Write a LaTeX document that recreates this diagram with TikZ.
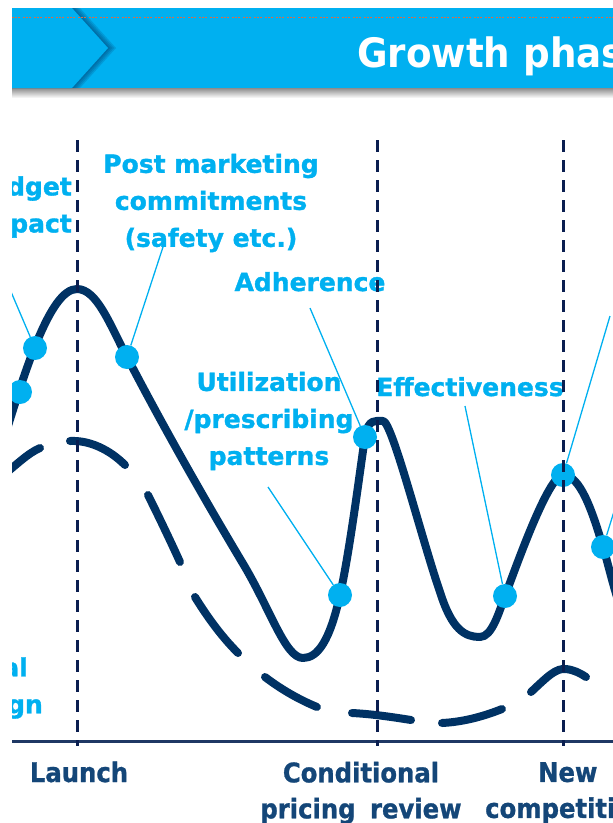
\documentclass[tikz,border=0pt]{standalone}
\usepackage{fontspec}
\newfontfamily\labfont[BoldFeatures={FakeBold=1.3}]{DejaVu Sans}
\newfontfamily\condfont[FakeStretch=0.9,BoldFeatures={FakeBold=1.0}]{DejaVu Sans}
\newfontfamily\titlefont[FakeStretch=0.92]{DejaVu Sans}
\definecolor{cyanb}{RGB}{0,176,240}
\definecolor{navy}{RGB}{0,50,100}
\definecolor{vline}{RGB}{10,30,80}
\definecolor{axiscol}{RGB}{31,56,100}
\definecolor{botlab}{RGB}{20,70,120}
\definecolor{shadowb}{RGB}{0,60,110}
\definecolor{dotor}{RGB}{215,110,70}
\tikzset{
  dotnode/.style={circle, fill=cyanb, minimum size=24pt, inner sep=0pt},
  leader/.style={cyanb, line width=1.3pt},
  curve/.style={navy, line width=8pt, line cap=round, line join=round},
  vdash/.style={vline, line width=3pt, dash pattern=on 12pt off 8pt},
  clabel/.style={text=cyanb, font=\labfont\bfseries\fontsize{25}{37}\selectfont, inner sep=0pt, align=center},
  blabel/.style={text=botlab, font=\condfont\bfseries\fontsize{27}{36}\selectfont, inner sep=0pt, align=center}
}
\begin{document}
\begin{tikzpicture}[x=1pt,y=-1pt]
\useasboundingbox (0,0) rectangle (613,823);
\begin{scope}
\clip (12,0) rectangle (613,823);
% banner
\fill[cyanb] (12,8) rectangle (613,88);
\shade[top color=black!45, bottom color=white] (12,88) rectangle (613,98);
\foreach \s in {2,4,6,8}
  \fill[shadowb, opacity=0.18] (12,8) -- (72+\s,8) -- (108+\s,48) -- (72+\s,88) -- (12,88) -- cycle;
\fill[cyanb] (12,8) -- (72,8) -- (108,48) -- (72,88) -- (12,88) -- cycle;
\draw[dotor, line width=1pt, dash pattern=on 2pt off 1pt on 2pt off 1pt on 2pt off 3pt] (12,17) -- (613,17);
\node[text=white, font=\titlefont\bfseries\fontsize{40.5}{44}\selectfont, inner sep=0pt, anchor=base west] (title) at (357,67) {Growth phas};

% axis
\draw[axiscol, line width=3pt] (12,741) -- (613,741);

% dashed curve (previous trend)
\draw[curve] (0,478) .. controls (15,466) and (28,453) .. (40,448);
\draw[curve] (70,441) .. controls (90,440) and (110,450) .. (125,465);
\draw[curve] (148,495) .. controls (158,515) and (170,540) .. (180,562);
\draw[curve] (195,597) .. controls (208,618) and (222,637) .. (238,653);
\draw[curve] (265,677) .. controls (282,690) and (300,700) .. (317,707);
\draw[curve] (352,713) .. controls (372,714) and (392,717) .. (411,720);
\draw[curve] (442,723) .. controls (462,722) and (482,717) .. (502,709);
\draw[curve] (531,692) .. controls (548,676) and (556,668) .. (566,669)
             .. controls (574,670) and (580,673) .. (586,677);

% solid curve
\draw[curve] (0,452) .. controls (25,370) and (50,289) .. (77,289)
  .. controls (97,289) and (110,325) .. (127,357)
  .. controls (165,430) and (205,500) .. (242,562)
  .. controls (270,608) and (285,658) .. (303,658)
  .. controls (318,658) and (330,640) .. (340,595)
  .. controls (350,550) and (360,470) .. (365,437)
  .. controls (368,418) and (376,421) .. (383,421)
  .. controls (392,421) and (422,540) .. (440,592)
  .. controls (452,630) and (465,637) .. (480,637)
  .. controls (492,637) and (499,612) .. (505,596)
  .. controls (515,570) and (548,475) .. (563,475)
  .. controls (580,475) and (592,510) .. (603,547)
  .. controls (609,567) and (614,590) .. (622,612);

% dots
\node[dotnode] (d1) at (20,392) {};
\node[dotnode] (d2) at (35,348) {};
\node[dotnode] (d3) at (127,357) {};
\node[dotnode] (d4) at (340,595) {};
\node[dotnode] (d5) at (365,437) {};
\node[dotnode] (d6) at (505,596) {};
\node[dotnode] (d7) at (563,475) {};
\node[dotnode] (d8) at (603,547) {};

% leader line ends
\coordinate (c2) at (0,266);
\coordinate (c3) at (163,247);
\coordinate (c4) at (268,487);
\coordinate (c5) at (310,308);
\coordinate (c6) at (465,406);
\coordinate (c7) at (610,316);
\coordinate (c8) at (616,505);
\draw[leader] (c2) -- (d2);
\draw[leader] (c3) -- (d3);
\draw[leader] (c4) -- (d4);
\draw[leader] (c5) -- (d5);
\draw[leader] (c6) -- (d6);
\draw[leader] (c7) -- (d7);
\draw[leader] (c8) -- (d8);

% labels
\node[clabel, align=right, anchor=east] (lbud) at (72,207) {dget\\pact};
\node[clabel] (lpost) at (211,203) {Post marketing\\commitments\\(safety etc.)};
\node[clabel, anchor=base] (ladh) at (310,291) {Adherence};
\node[clabel] (lutil) at (269,421) {Utilization\\/prescribing\\patterns};
\node[clabel, anchor=base] (leff) at (470,396) {Effectiveness};
\node[clabel, align=right, anchor=east] (ltrial) at (43,688) {al\hspace*{15pt}\\gn};

% bottom labels
\node[blabel, anchor=base] (llaunch) at (79,782) {Launch};
\node[blabel] (lcond) at (361,793) {Conditional\\pricing\hspace{6pt} review};
\node[blabel, align=left, anchor=north west] (lnew) at (485,762) {\hspace*{53pt}New\\competiti};

% vertical event lines
\draw[vdash] (77,140) -- (77,746);
\draw[vdash] (377,140) -- (377,746);
\draw[vdash] (563,140) -- (563,746);
\end{scope}
\end{tikzpicture}
\end{document}
